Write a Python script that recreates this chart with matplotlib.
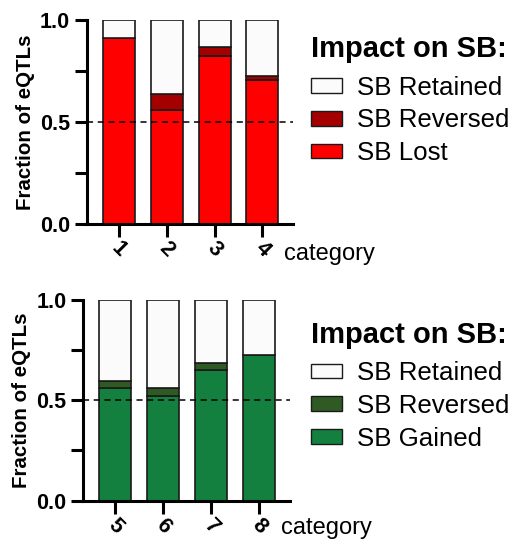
import matplotlib
matplotlib.use("Agg")
import matplotlib.pyplot as plt
from matplotlib.patches import Patch
from matplotlib.ticker import FixedLocator

plt.rcParams['font.family'] = ['Liberation Sans', 'DejaVu Sans']

# Top panel: categories 1-4
top_categories = ['1', '2', '3', '4']
top_lost = [0.91, 0.557, 0.824, 0.703]
top_reversed = [0.0, 0.079, 0.044, 0.022]

# Bottom panel: categories 5-8
bottom_categories = ['5', '6', '7', '8']
bottom_gained = [0.562, 0.519, 0.652, 0.725]
bottom_reversed = [0.034, 0.042, 0.035, 0.0]

fig = plt.figure(figsize=(5.14, 5.39), dpi=100)

def panel(rect, cats, main_vals, rev_vals, main_color, rev_color, main_label,
          legend_y, cat_y):
    ax = fig.add_axes(rect)
    x = list(range(len(cats)))
    retained = [1 - m - r for m, r in zip(main_vals, rev_vals)]
    kw = dict(width=0.67, edgecolor='#1a1a1a', linewidth=1.2, zorder=2)
    ax.bar(x, main_vals, color=main_color, **kw)
    ax.bar(x, rev_vals, bottom=main_vals, color=rev_color, **kw)
    ax.bar(x, retained, bottom=[m + r for m, r in zip(main_vals, rev_vals)],
           color='#fbfbfb', **kw)
    ax.axhline(0.5, color='black', linestyle=(0, (4, 3)), linewidth=1.1, zorder=3)
    ax.set_xlim(-0.67, 3.64)
    ax.set_ylim(0, 1.0)
    for s in ['top', 'right']:
        ax.spines[s].set_visible(False)
    for s in ['left', 'bottom']:
        ax.spines[s].set_linewidth(2.2)
    ax.yaxis.set_major_locator(FixedLocator([0, 0.5, 1.0]))
    ax.yaxis.set_minor_locator(FixedLocator([0.25, 0.75]))
    ax.set_yticklabels(['0.0', '0.5', '1.0'], fontsize=15.5, fontweight='bold')
    ax.tick_params(axis='both', which='both', direction='out', width=2.2, length=9)
    ax.tick_params(axis='y', pad=3)
    ax.set_xticks(x)
    ax.set_xticklabels(cats, fontsize=15.5, fontweight='bold', rotation=-45,
                       ha='center', va='top')
    ax.tick_params(axis='x', pad=1)
    ax.set_ylabel('Fraction of eQTLs', fontsize=14.8, fontweight='bold', labelpad=4)
    ax.text(0.956, cat_y, 'category', transform=ax.transAxes, fontsize=17,
            ha='left', va='top', clip_on=False)
    handles = [Patch(facecolor='#fbfbfb', edgecolor='#1a1a1a', linewidth=1.0, label='SB Retained'),
               Patch(facecolor=rev_color, edgecolor='#1a1a1a', linewidth=1.0, label='SB Reversed'),
               Patch(facecolor=main_color, edgecolor='#1a1a1a', linewidth=1.0, label=main_label)]
    leg = fig.legend(handles=handles, title='Impact on SB:', loc='upper left',
                     bbox_to_anchor=(0.606, legend_y), frameon=False,
                     fontsize=18.6, title_fontproperties={'size': 21, 'weight': 'bold'},
                     handlelength=1.2, handleheight=0.5, handletextpad=0.55,
                     labelspacing=0.34, borderaxespad=0, borderpad=0)
    leg._legend_box.align = 'left'
    leg._legend_box.sep = 9
    return ax

panel([0.169, 0.5844, 0.401, 0.379], top_categories, top_lost, top_reversed,
      '#ff0000', '#a40000', 'SB Lost', 0.935, -0.095)
panel([0.1615, 0.071, 0.403, 0.373], bottom_categories, bottom_gained, bottom_reversed,
      '#138040', '#2f5a24', 'SB Gained', 0.405, -0.08)

fig.savefig('out.png', dpi=100)
